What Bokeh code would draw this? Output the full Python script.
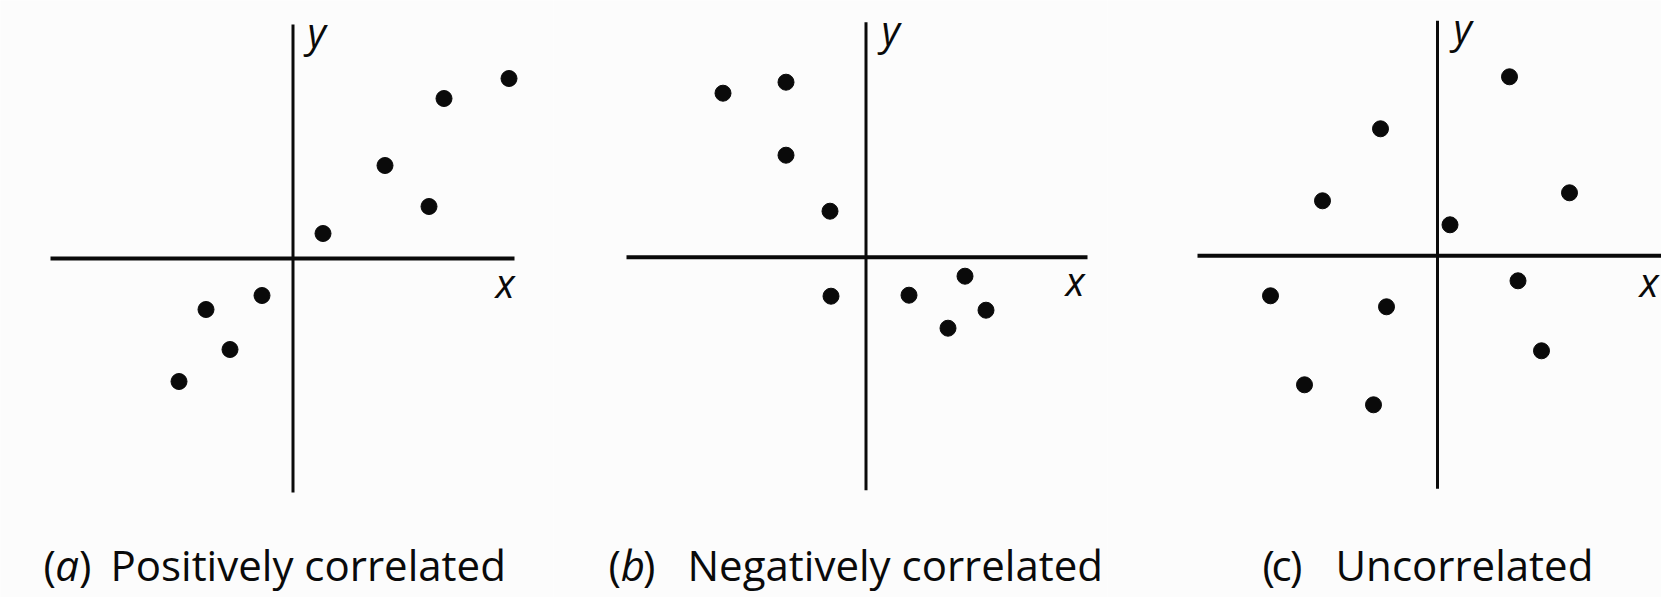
from bokeh.plotting import figure
from bokeh.layouts import row
from bokeh.models import Range1d
from bokeh.core.properties import value
from bokeh.embed import file_html
from bokeh.resources import INLINE

# Scatter samples for the three panels (axes cross at 0, 0)
pos_x = [21.6, 15.1, 9.2, 13.6, 3.0, -3.1, -8.7, -6.3, -11.4]
pos_y = [18.0, 16.0, 9.3, 5.2, 2.5, -3.7, -5.1, -9.1, -12.3]

neg_x = [-14.3, -8.0, -8.0, -3.6, -3.5, 4.3, 9.9, 12.0, 8.2]
neg_y = [16.4, 17.5, 10.2, 4.6, -3.9, -3.8, -1.9, -5.3, -7.1]

unc_x = [7.2, -5.7, -11.5, 13.2, 1.25, 8.05, -16.7, -5.1, 10.4, -13.3, -6.4]
unc_y = [17.9, 12.7, 5.5, 6.3, 3.1, -2.5, -4.0, -5.1, -9.5, -12.9, -14.9]

panel_letters = ["a", "b", "c"]
panel_titles = ["Positively correlated", "Negatively correlated", "Uncorrelated"]
letter_italic = [True, True, False]

FONT = value("Open Sans")
BG = "#fcfcfc"
INK = "#0a0a0a"
TEXT_LIFT = 1.7  # raise glyph texts so their baselines sit where intended


def panel(xs, ys, letter, title, italic, width, xr, yr, hx, vy, lbl_y, lbl_x, cap):
    p = figure(width=width, height=597, output_backend="svg", toolbar_location=None,
               x_range=Range1d(*xr), y_range=Range1d(*yr),
               x_axis_location=None, y_axis_location=None,
               min_border=0, outline_line_color=None,
               background_fill_color=BG, border_fill_color=BG)
    p.grid.visible = False

    # coordinate axes through the origin
    p.segment(x0=[hx[0]], y0=[0], x1=[hx[1]], y1=[0], line_color=INK, line_width=4)
    p.segment(x0=[0], y0=[vy[0]], x1=[0], y1=[vy[1]], line_color=INK, line_width=3)

    p.scatter(xs, ys, size=16, fill_color=INK, line_color=INK)

    p.text(x=[lbl_y[0]], y=[lbl_y[1] + TEXT_LIFT], text=["y"], text_font=FONT,
           text_font_size="40px", text_font_style="italic", text_color=INK,
           text_baseline="alphabetic")
    p.text(x=[lbl_x[0]], y=[lbl_x[1] + TEXT_LIFT], text=["x"], text_font=FONT,
           text_font_size="40px", text_font_style="italic", text_color=INK,
           text_baseline="alphabetic")

    # caption: "(letter)" then the description
    cx_open, cx_letter, cx_close, cx_title, cy = cap
    cy += TEXT_LIFT
    common = dict(text_font=FONT, text_font_size="42px", text_color=INK,
                  text_baseline="alphabetic")
    p.text(x=[cx_open], y=[cy], text=["("], text_align="left", **common)
    p.text(x=[cx_letter], y=[cy], text=[letter], text_align="center",
           text_font_style="italic" if italic else "normal", **common)
    p.text(x=[cx_close], y=[cy], text=[")"], text_align="right", **common)
    p.text(x=[cx_title], y=[cy], text=[title], text_align="left", **common)
    return p


pa = panel(pos_x, pos_y, panel_letters[0], panel_titles[0], letter_italic[0], 553,
           (-29.25, 26.05), (-33.9, 25.8), (-24.25, 22.15), (23.4, -23.4),
           (1.45, 21.0), (20.25, -4.1),
           (-24.95, -22.6, -20.15, -18.25, -32.3))
pb = panel(neg_x, neg_y, panel_letters[1], panel_titles[1], letter_italic[1], 554,
           (-31.25, 24.15), (-34.03, 25.67), (-23.95, 22.15), (23.5, -23.3),
           (1.55, 21.07), (19.95, -4.03),
           (-25.75, -23.3, -21.05, -17.85, -32.43))
pc = panel(unc_x, unc_y, panel_letters[2], panel_titles[2], letter_italic[2], 554,
           (-33.0, 22.4), (-34.17, 25.53), (-24.0, 23.0), (23.5, -23.3),
           (1.6, 21.1), (20.2, -4.27),
           (-17.5, -15.6, -13.5, -10.2, -32.57))

layout = row(pa, pb, pc, spacing=0)

with open("out.html", "w") as f:
    f.write(file_html(layout, INLINE))
